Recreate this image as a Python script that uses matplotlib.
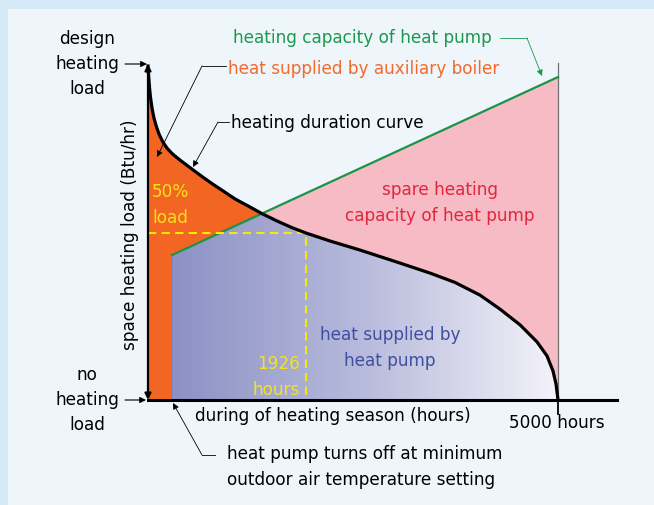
import numpy as np
import matplotlib
matplotlib.use("Agg")
import matplotlib.pyplot as plt
from matplotlib.patches import Polygon, Rectangle
from matplotlib.colors import LinearSegmentedColormap

plt.rc('font', family='DejaVu Sans')

# heating duration curve: hours of season vs fraction of design load
hours = [0, 4, 10, 18, 30, 49, 73, 104, 140, 183, 232, 293, 366, 451, 549,
         659, 780, 915, 1061, 1220, 1390, 1573, 1756, 1926, 2220, 2585, 3073,
         3439, 3744, 4049, 4293, 4537, 4744, 4866, 4939, 4976, 5000]
load = [1.000, 0.985, 0.964, 0.937, 0.907, 0.874, 0.844, 0.817, 0.793, 0.772,
        0.754, 0.738, 0.723, 0.707, 0.689, 0.669, 0.648, 0.626, 0.602, 0.581,
        0.558, 0.536, 0.516, 0.500, 0.476, 0.449, 0.410, 0.380, 0.352, 0.314,
        0.272, 0.225, 0.174, 0.132, 0.087, 0.048, 0.000]

# heat pump capacity line (start at cut-off, end at season end)
hp_hours = [293, 5000]
hp_load = [0.434, 0.967]
cross_hours = 1390   # capacity line meets duration curve
cross_load = 0.558
season_end = 5000
half_hours = 1926
half_load = 0.5

# pixel layout: origin of chart at (148, 400) px, 0.082 px/hour, 334 px per unit load
W, H = 654, 505
X0, XS = 148, 0.082
Y0, YS = 400, 334

fig = plt.figure(figsize=(W / 100, H / 100), dpi=100)
fig.patch.set_facecolor('#d4e8f5')
fig.patches.append(Rectangle((8 / W, 0), 1, 1 - 9 / H, transform=fig.transFigure,
                             facecolor='#eef5fb', edgecolor='none', zorder=-5))
ax = fig.add_axes([0, 0, 1, 1])
ax.axis('off')
ax.patch.set_alpha(0)


def P(x, y):
    # figure pixel from top-left
    return (x, H - y)


hours = np.array(hours)
load = np.array(load)

# orange: auxiliary boiler (everything under curve up to crossing)
m = hours <= cross_hours
ax.fill_between(hours[m], 0, load[m], color='#f26522', lw=0, zorder=1)

# blue gradient: heat supplied by heat pump
after = hours > cross_hours
bx = [hp_hours[0], hp_hours[0], cross_hours] + list(hours[after]) + [season_end]
by = [0, hp_load[0], cross_load] + list(load[after]) + [0]
blue = Polygon(np.column_stack([bx, by]), closed=True, facecolor='none', edgecolor='none')
ax.add_patch(blue)
cmap = LinearSegmentedColormap.from_list('hp', ['#8c92c5', '#b8bbdc', '#f4f3f9'])
grad = np.linspace(0, 1, 256).reshape(1, -1)
im = ax.imshow(grad, cmap=cmap, extent=[hp_hours[0], season_end, 0, 1],
               aspect='auto', origin='lower', zorder=2)
im.set_clip_path(blue)

# pink: spare capacity
px_ = [cross_hours, hp_hours[1], season_end] + list(hours[after][::-1][1:])
py_ = [cross_load, hp_load[1], 0] + list(load[after][::-1][1:])
ax.add_patch(Polygon(np.column_stack([px_, py_]), closed=True,
                     facecolor='#f7bbc6', edgecolor='none', zorder=2))

# right gray edge and green capacity line
ax.plot([season_end, season_end], [0, 1.009], color='#707070', lw=0.9, zorder=3)
ax.plot(hp_hours, hp_load, color='#1b9447', lw=1.6, zorder=4)
ax.plot([hp_hours[0], hp_hours[0]], [0, hp_load[0]], color='#7d83b8', lw=0.6, zorder=3)

# yellow dashed 50% guides
ax.plot([0, half_hours, half_hours], [half_load, half_load, 0], color='#f5ea00',
        lw=1.5, ls=(0, (4, 2.5)), zorder=5)

# duration curve
ax.plot(hours, load, color='black', lw=2.3, zorder=6, solid_joinstyle='round')

# axes
ax.plot([0, 5720], [0, 0], color='black', lw=2.2, zorder=6)
ax.plot([season_end, season_end], [0, -0.042], color='black', lw=1.3, zorder=6)
ax.annotate('', xy=(0, 1.006), xytext=(0, 0.0),
            arrowprops=dict(arrowstyle='<|-|>', color='black', lw=1.6,
                            shrinkA=0, shrinkB=0, mutation_scale=9), zorder=7)

ax.set_xlim(-X0 / XS, (W - X0) / XS)
ax.set_ylim(-(H - Y0) / YS, Y0 / YS)

fs = 12.2
ls = 1.53


def txt(x, y, s, color='black', ha='center', **kw):
    fig.text(x / W, 1 - y / H, s, color=color, ha=ha, va='center', fontsize=fs,
             linespacing=ls, **kw)


def arrow(tip, tail, color='black', lw=0.6):
    ax.annotate('', xy=P(*tip), xycoords='figure pixels', xytext=P(*tail),
                textcoords='figure pixels',
                arrowprops=dict(arrowstyle='-|>', color=color, lw=lw,
                                shrinkA=0, shrinkB=0, mutation_scale=9), zorder=8)


def leader(pts, color='black', lw=0.6):
    xs = [p[0] / W for p in pts]
    ys = [1 - p[1] / H for p in pts]
    fig.add_artist(plt.Line2D(xs, ys, color=color, lw=lw, transform=fig.transFigure))


txt(87, 64, 'design\nheating\nload')
arrow((147, 64), (125, 64), lw=0.8)
txt(87, 400, 'no\nheating\nload')
arrow((146, 400), (125, 400), lw=0.8)

fig.text(130 / W, 1 - 235 / H, 'space heating load (Btu/hr)', rotation=90,
         ha='center', va='center', fontsize=fs)

txt(233, 38, 'heating capacity of heat pump', color='#1b9a4c', ha='left')
leader([(500, 38), (527, 38)], color='#1b9a4c')
arrow((542, 76), (527, 38), color='#1b9a4c')

txt(228, 69, 'heat supplied by auxiliary boiler', color='#f26a2c', ha='left')
leader([(226, 66), (202, 66)])
arrow((157, 157), (202, 66))

txt(231, 123, 'heating duration curve', ha='left')
leader([(229, 122), (218, 122)])
arrow((193, 167), (218, 122))

txt(152, 205, '50%\nload', color='#f5e21c', ha='left')
txt(440, 203, 'spare heating\ncapacity of heat pump', color='#e3263b')
txt(390, 348, 'heat supplied by\nheat pump', color='#3f4f9f')
txt(300, 377, '1926\nhours', color='#f5e21c', ha='right')
txt(333, 416, 'during of heating season (hours)')
txt(509, 423, '5000 hours', ha='left')
txt(227, 467, 'heat pump turns off at minimum\noutdoor air temperature setting',
    ha='left')
leader([(215, 455), (202, 455)])
arrow((173, 403), (202, 455))

plt.savefig('out.png', dpi=100, facecolor=fig.get_facecolor())
print("Done!")
